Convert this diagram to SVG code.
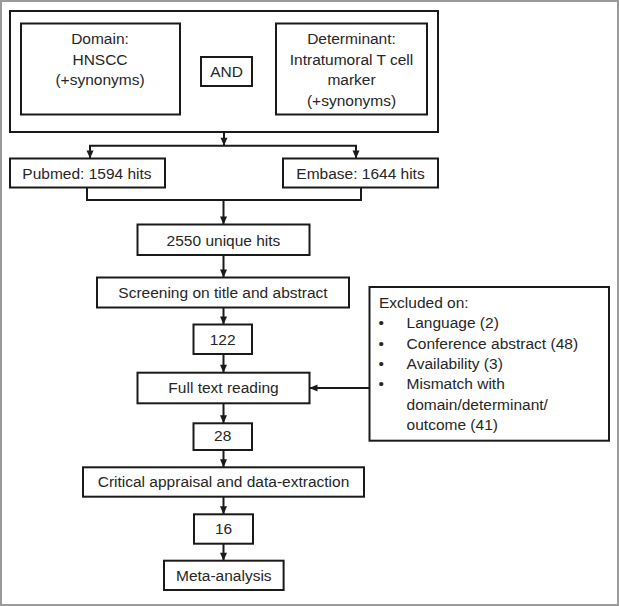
<svg xmlns="http://www.w3.org/2000/svg" width="619" height="606" viewBox="0 0 619 606">
<style>
.box{fill:#fff;stroke:#1a1a1a;stroke-width:2}
.t{font-family:"Liberation Sans",Arial,sans-serif;font-size:15.5px;fill:#262626;text-anchor:middle}
.l{text-anchor:start}
.c{fill:none;stroke:#1a1a1a;stroke-width:2}
.a{marker-end:url(#ah)}
</style>
<defs>
<marker id="ah" markerUnits="userSpaceOnUse" markerWidth="10" markerHeight="10" viewBox="0 0 10 10" refX="9" refY="5" orient="auto-start-reverse">
<path d="M1,1.5 L9,5 L1,8.5 Z" fill="#1a1a1a"/>
</marker>
</defs>
<rect x="1" y="1" width="617" height="604" fill="#fff" stroke="#9a9a9a" stroke-width="2"/>
<g id="search">
<rect class="box" x="10" y="11" width="428" height="121"/>
</g>
<g id="domain">
<rect class="box" x="21" y="23.5" width="159" height="91"/>
<text class="t" x="100" y="44">Domain:</text>
<text class="t" x="100" y="64.5">HNSCC</text>
<text class="t" x="100" y="85">(+synonyms)</text>
</g>
<g id="and">
<rect class="box" x="201" y="57" width="51" height="29"/>
<text class="t" x="226.5" y="76.7">AND</text>
</g>
<g id="determinant">
<rect class="box" x="276" y="23.5" width="151" height="91"/>
<text class="t" x="351.5" y="44">Determinant:</text>
<text class="t" x="351.5" y="64.5">Intratumoral T cell</text>
<text class="t" x="351.5" y="85">marker</text>
<text class="t" x="351.5" y="105.5">(+synonyms)</text>
</g>
<g id="pubmed">
<rect class="box" x="10" y="158.5" width="155" height="29"/>
<text class="t" x="87" y="179">Pubmed: 1594 hits</text>
</g>
<g id="embase">
<rect class="box" x="283" y="158.5" width="155" height="29"/>
<text class="t" x="360.5" y="179">Embase: 1644 hits</text>
</g>
<g id="unique">
<rect class="box" x="137.5" y="224.5" width="172" height="30.5"/>
<text class="t" x="223.5" y="245.7">2550 unique hits</text>
</g>
<g id="screening">
<rect class="box" x="97" y="277.5" width="252" height="30"/>
<text class="t" x="223" y="298">Screening on title and abstract</text>
</g>
<g id="n122">
<rect class="box" x="193.5" y="324.5" width="58.5" height="29.5"/>
<text class="t" x="222.7" y="345">122</text>
</g>
<g id="fulltext">
<rect class="box" x="137.5" y="372.7" width="172" height="30.6"/>
<text class="t" x="223.5" y="393.3">Full text reading</text>
</g>
<g id="n28">
<rect class="box" x="193.5" y="423.3" width="58.5" height="26.7"/>
<text class="t" x="222.7" y="440.7">28</text>
</g>
<g id="critical">
<rect class="box" x="83" y="467.3" width="281" height="29.4"/>
<text class="t" x="223.5" y="486.7">Critical appraisal and data-extraction</text>
</g>
<g id="n16">
<rect class="box" x="194" y="514.3" width="59" height="29.4"/>
<text class="t" x="223.5" y="534.3">16</text>
</g>
<g id="meta">
<rect class="box" x="164" y="560.7" width="119.6" height="29.3"/>
<text class="t" x="223.8" y="580.7">Meta-analysis</text>
</g>
<g id="excluded">
<rect class="box" x="369.5" y="287" width="239.5" height="153.7"/>
<text class="t l" x="379" y="308.3">Excluded on:</text>
<text class="t l" x="378.5" y="328.3">•</text>
<text class="t l" x="406.6" y="328.3">Language (2)</text>
<text class="t l" x="378.5" y="348.6">•</text>
<text class="t l" x="406.6" y="348.6">Conference abstract (48)</text>
<text class="t l" x="378.5" y="369">•</text>
<text class="t l" x="406.6" y="369">Availability (3)</text>
<text class="t l" x="378.5" y="389.3">•</text>
<text class="t l" x="406.6" y="389.3">Mismatch with</text>
<text class="t l" x="406.6" y="409.6">domain/determinant/</text>
<text class="t l" x="406.6" y="430">outcome (41)</text>
</g>
<g id="connectors">
<path class="c a" d="M224,132 V145.7"/>
<path class="c" d="M90,158.5 V145.7 H356 V158.5" marker-start="url(#ah)" marker-end="url(#ah)"/>
<path class="c" d="M87,187.5 V200 H361 V187.5"/>
<path class="c a" d="M223.5,200 V224.5"/>
<path class="c a" d="M223.5,255 V277.5"/>
<path class="c a" d="M223.5,307.5 V324.5"/>
<path class="c a" d="M223.5,354 V372.7"/>
<path class="c a" d="M369.5,388 H309.5"/>
<path class="c a" d="M223.5,403.3 V423.3"/>
<path class="c a" d="M223.5,450 V467.3"/>
<path class="c a" d="M223.5,496.7 V514.3"/>
<path class="c a" d="M223.5,543.7 V560.7"/>
</g>
</svg>
